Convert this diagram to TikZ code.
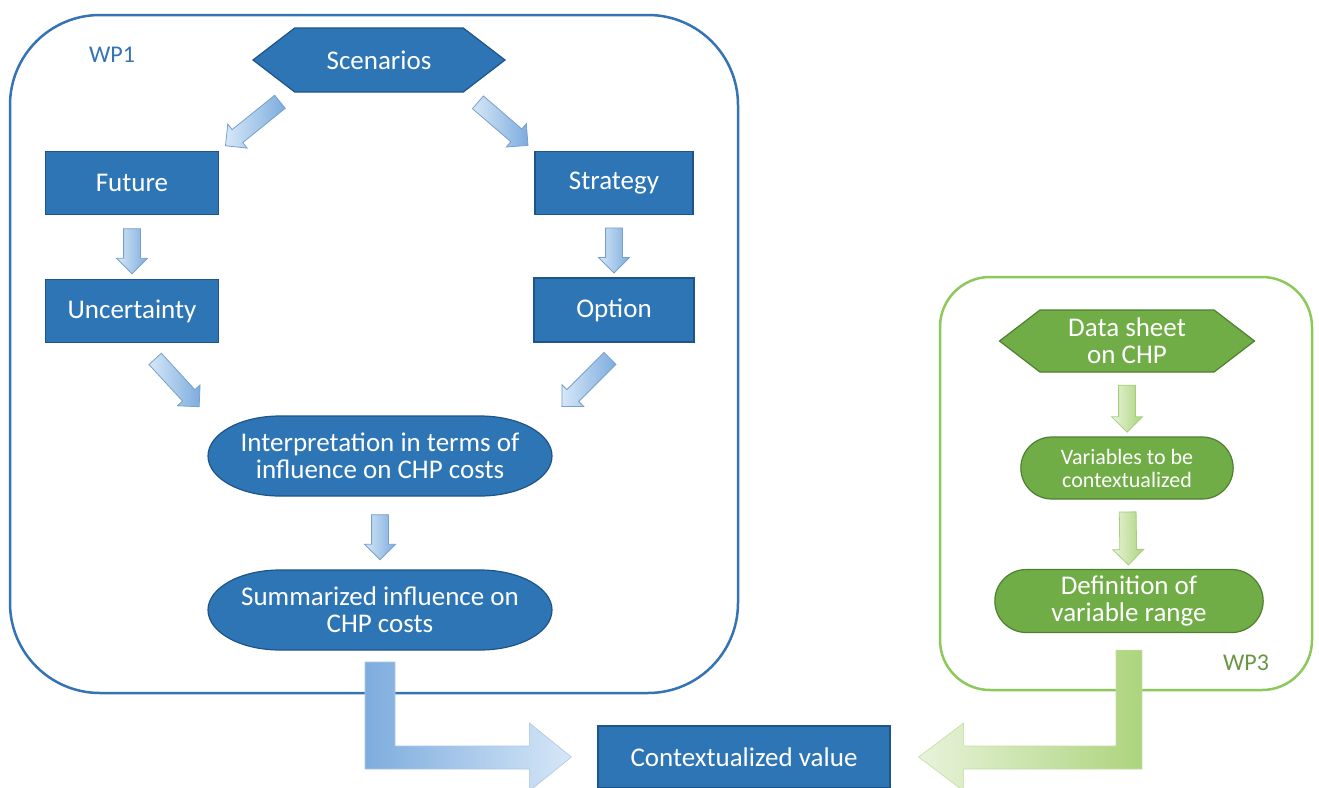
\documentclass[tikz,border=0pt]{standalone}
\usepackage{fontspec}
\setmainfont{Carlito}
\usetikzlibrary{shapes.misc,shapes.symbols,shapes.arrows,calc,backgrounds}
\def\boxline{1.2}
\def\frameline{2.5}
\definecolor{boxblue}{RGB}{46,117,182}
\definecolor{edgeblue}{RGB}{31,84,136}
\definecolor{boxgreen}{RGB}{112,173,71}
\definecolor{edgegreen}{RGB}{78,128,48}
\definecolor{frameblue}{RGB}{52,115,180}
\definecolor{framegreen}{RGB}{140,200,90}
\definecolor{arrowblue}{RGB}{125,172,222}
\definecolor{paleblue}{RGB}{214,231,247}
\definecolor{arrowedge}{RGB}{120,160,205}
\definecolor{arrowgreen}{RGB}{172,212,125}
\definecolor{palegreen}{RGB}{232,243,218}
\definecolor{greenedge}{RGB}{165,205,125}
\definecolor{labelgreen}{RGB}{105,150,70}

\begin{document}
\begin{tikzpicture}[x=1pt, y=-1pt,
    txt/.style={text=white, font=\fontsize{27}{27}\selectfont, align=center},
    bbox/.style={txt, rectangle, fill=boxblue, draw=edgeblue, line width=\boxline},
    bterm/.style={txt, rectangle, outer sep=0pt, minimum width=344pt, minimum height=80pt},
    termfill/.style={fill=boxblue, draw=edgeblue, line width=\boxline},
    bhex/.style={txt, signal, signal to=west and east, signal pointer angle=75, fill=boxblue, draw=edgeblue, line width=\boxline},
    gbox/.style={txt, fill=boxgreen, draw=edgegreen, line width=\boxline},
    sarrow/.style={single arrow, single arrow head extend=7pt, inner sep=8pt, minimum height=45pt, draw=arrowedge, line width=0.8pt, left color=paleblue, right color=arrowblue, sloped, allow upside down},
    garrow/.style={sarrow, draw=greenedge, left color=palegreen, right color=arrowgreen}
    ]

    \useasboundingbox (0,0) rectangle (1319,787);

    % frames
    \node[draw=frameblue, line width=\frameline, rounded corners=90pt, minimum width=728pt, minimum height=678pt] (wp1) at (374,354) {};
    \node[draw=framegreen, line width=\frameline, rounded corners=50pt, minimum width=372pt, minimum height=413pt] (wp3) at (1126,483.5) {};
    \node[text=frameblue, font=\fontsize{24}{24}\selectfont] (wp1lab) at (112,55) {WP1};
    \node[text=labelgreen, font=\fontsize{24}{24}\selectfont] (wp3lab) at (1246,663) {WP3};

    % WP1
    \node[bhex, minimum width=252pt, minimum height=64pt] (scen) at (379,60) {Scenarios};
    \node[bbox, minimum width=173pt, minimum height=63pt] (fut) at (132,183) {Future};
    \node[bbox, minimum width=158pt, minimum height=63pt] (strat) at (614,183) {Strategy};
    \node[bbox, minimum width=173pt, minimum height=63pt] (unc) at (132,311) {Uncertainty};
    \node[bbox, minimum width=160pt, minimum height=64pt] (opt) at (614,310) {Option};
    \node[bterm] (interp) at (380,456) {Interpretation in terms of\\influence on CHP costs};
    \node[bterm] (summ) at (380,610) {Summarized influence on\\CHP costs};

    % terminator shapes with oval ends
    \begin{scope}[on background layer]
        \foreach \t in {interp,summ}
            \draw[termfill] ([xshift=72pt]\t.north west) -- ([xshift=-72pt]\t.north east)
                arc[start angle=90, end angle=-90, x radius=72pt, y radius=40pt]
                -- ([xshift=72pt]\t.south west)
                arc[start angle=270, end angle=90, x radius=72pt, y radius=40pt] -- cycle;
    \end{scope}

    \path (scen.-160) -- (fut.north east) node[sarrow, midway, minimum height=70pt] (a1) {};
    \path (scen.-20) -- (strat.north west) node[sarrow, midway, minimum height=66pt] (a2) {};
    \path (fut) -- (unc) node[sarrow, midway] (a3) {};
    \path (strat) -- (opt) node[sarrow, midway] (a4) {};
    \path (unc.-75) -- (interp.167) node[sarrow, midway, minimum height=65pt] (a5) {};
    \path (opt.-70) -- (interp.13) node[sarrow, midway, minimum height=68pt] (a6) {};
    \path (interp) -- (summ) node[sarrow, midway] (a7) {};

    % WP3
    \node[gbox, signal, signal to=west and east, signal pointer angle=75, minimum width=255pt, minimum height=62pt] (data) at (1127,341) {Data sheet\\on CHP};
    \node[gbox, rounded rectangle, minimum width=219pt, minimum height=62pt, font=\fontsize{22}{23}\selectfont] (vars) at (1127,468) {Variables to be\\contextualized};
    \node[gbox, rounded rectangle, minimum width=275pt, minimum height=63pt] (defn) at (1129,601) {Definition of\\variable range};

    \path (data) -- (vars) node[garrow, midway, minimum height=47pt] (g1) {};
    \path (vars) -- (defn) node[garrow, midway, minimum height=53pt] (g2) {};

    % result
    \node[bbox, minimum width=292pt, minimum height=62pt] (ctx) at (744,757) {Contextualized value};

    \draw[draw=arrowedge!60, line width=0.6pt, left color=arrowblue, right color=paleblue]
        let \p1=(summ.south), \p2=(ctx.west) in
        (\x1-15pt,\y1-12pt) -- (\x1+15pt,\y1-12pt) -- (\x1+15pt,\y2+11pt) -- (\x2-68pt,\y2+11pt)
        -- (\x2-68pt,\y2+34pt) -- (\x2-26pt,\y2) -- (\x2-68pt,\y2-34pt) -- (\x2-68pt,\y2-12pt)
        -- (\x1-15pt,\y2-12pt) -- cycle;
    \draw[draw=greenedge!70, line width=0.6pt, left color=palegreen, right color=arrowgreen]
        let \p1=(defn.south), \p2=(ctx.east) in
        (\x1+13pt,\y1-17pt) -- (\x1-13pt,\y1-17pt) -- (\x1-13pt,\y2+11pt) -- (\x2+73pt,\y2+11pt)
        -- (\x2+73pt,\y2+34pt) -- (\x2+28pt,\y2) -- (\x2+73pt,\y2-34pt) -- (\x2+73pt,\y2-12pt)
        -- (\x1+13pt,\y2-12pt) -- cycle;

\end{tikzpicture}
\end{document}
